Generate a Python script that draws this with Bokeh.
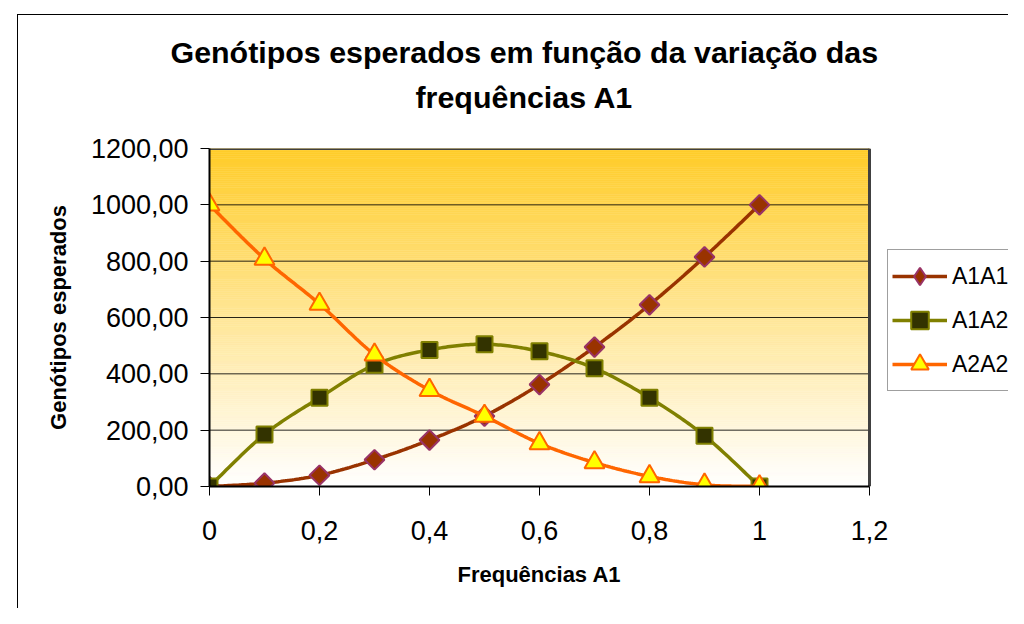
import numpy as np
from bokeh.plotting import figure
from bokeh.models import Title, FixedTicker, Legend, LegendItem, Range1d
from bokeh.embed import file_html
from bokeh.resources import INLINE

# ---------------- data ----------------
freq = [0.0, 0.1, 0.2, 0.3, 0.4, 0.5, 0.6, 0.7, 0.8, 0.9, 1.0]
a1a1 = [0, 12, 40, 95, 165, 250, 362, 495, 645, 815, 1000]
a1a2 = [0, 185, 315, 432, 485, 505, 480, 420, 315, 180, 0]
a2a2 = [1000, 808, 648, 468, 342, 250, 153, 85, 36, 6, 0]
series_names = ["A1A1", "A1A2", "A2A2"]

x_ticks = [0, 0.2, 0.4, 0.6, 0.8, 1.0, 1.2]
x_tick_labels = ["0", "0,2", "0,4", "0,6", "0,8", "1", "1,2"]
y_ticks = [0, 200, 400, 600, 800, 1000, 1200]
y_tick_labels = ["0,00", "200,00", "400,00", "600,00", "800,00", "1000,00", "1200,00"]

title_lines = ["Genótipos esperados em função da variação das", "frequências A1"]
x_title = "Frequências A1"
y_title = "Genótipos esperados"

FONT = "Liberation Sans"


def smooth(xs, ys, n=24):
    """Excel-like smoothed line (Catmull-Rom as cubic Bezier)."""
    xs = np.asarray(xs, float)
    ys = np.asarray(ys, float)
    P = np.stack([xs, ys], axis=1)
    Pp = np.vstack([P[:1], P, P[-1:]])
    out = []
    m = len(P) - 1
    for i in range(m):
        p0, p1, p2, p3 = Pp[i], Pp[i + 1], Pp[i + 2], Pp[i + 3]
        c1 = p1 + (p2 - p0) / 6.0
        c2 = p2 - (p3 - p1) / 6.0
        t = np.linspace(0, 1, n, endpoint=(i == m - 1))[:, None]
        B = (1 - t) ** 3 * p1 + 3 * (1 - t) ** 2 * t * c1 + 3 * (1 - t) * t ** 2 * c2 + t ** 3 * p2
        out.append(B)
    B = np.vstack(out)
    return B[:, 0], B[:, 1]


x_min, x_max = x_ticks[0], x_ticks[-1]
y_min, y_max = y_ticks[0], y_ticks[-1]

# layout (pixels)
W, H = 1008, 608
LEFT, TOP, BOTTOM = 209, 148, 111
PLOT_W = 660                      # width of the plot area (0 .. 1.2)
FRAME_W = W - LEFT                # frame reaches the right edge so the legend fits inside
x_view_max = x_max * FRAME_W / PLOT_W

p = figure(
    width=W, height=H,
    x_range=Range1d(x_min, x_view_max), y_range=Range1d(y_min, y_max),
    output_backend="svg", toolbar_location=None,
    min_border_left=LEFT, min_border_top=TOP, min_border_right=0, min_border_bottom=BOTTOM,
    background_fill_color="white", border_fill_color=None,
)
# chart-area border (left & top edges; right/bottom lie outside the window)
p.styles = {
    "background": "linear-gradient(#000,#000) 17px 14px / 1px 100% no-repeat, "
                  "linear-gradient(#000,#000) 17px 14px / 100% 1px no-repeat, #ffffff",
}
p.outline_line_color = None

# gradient plot-area background (gold top -> white bottom)
n_strips = 175
edges = np.linspace(y_min, y_max, n_strips + 1)
frac = (edges[:-1] + edges[1:]) / 2 / y_max
top_col = np.array([255, 204, 40])
bot_col = np.array([255, 255, 255])
cols = []
for f in frac:
    t = f ** 1.05
    c = bot_col + (top_col - bot_col) * t
    cols.append("#%02x%02x%02x" % tuple(int(round(v)) for v in c))
p.quad(left=x_min, right=x_max, bottom=edges[:-1], top=edges[1:], fill_color=cols,
       line_color=cols, line_width=0.5, level="image")

# horizontal gridlines limited to the plot area, and the plot-area top/right border
grid_y = y_ticks[1:-1]
p.segment(x0=x_min, x1=x_max, y0=grid_y, y1=grid_y, line_color="black", line_width=1,
          line_alpha=0.85, level="underlay")
p.segment(x0=[x_min, x_max], x1=[x_max, x_max], y0=[y_max, y_min], y1=[y_max, y_max],
          line_color="#404040", line_width=3, level="underlay")

# titles: spacer panel nearest the frame, then line 2, then line 1
gap = Title(text=" ", text_font=FONT, text_font_size="1px", standoff=26)
t2 = Title(text=title_lines[1], align="left", vertical_align="bottom", text_font=FONT,
           text_font_size="30.4px", text_font_style="bold", text_color="black",
           offset=206, standoff=12)
t1 = Title(text=title_lines[0], align="left", vertical_align="bottom", text_font=FONT,
           text_font_size="30.4px", text_font_style="bold", text_color="black",
           offset=-39, standoff=5)
p.add_layout(gap, "above")
p.add_layout(t2, "above")
p.add_layout(t1, "above")

# axes
for ax in (p.xaxis[0], p.yaxis[0]):
    ax.axis_line_color = "black"
    ax.axis_line_width = 2
    ax.major_tick_line_color = "black"
    ax.major_tick_line_width = 1
    ax.major_tick_in = 0
    ax.major_tick_out = 9
    ax.minor_tick_line_color = None
    ax.major_label_text_font = FONT
    ax.major_label_text_font_size = "27px"
    ax.major_label_text_color = "black"
    ax.axis_label_text_font = FONT
    ax.axis_label_text_font_size = "22px"
    ax.axis_label_text_font_style = "bold"
    ax.axis_label_text_color = "black"

p.xaxis.bounds = (x_min, x_max)
p.xaxis.ticker = FixedTicker(ticks=x_ticks)
p.xaxis.major_label_overrides = {t: l for t, l in zip(x_ticks, x_tick_labels)}
p.yaxis.ticker = FixedTicker(ticks=y_ticks)
p.yaxis.major_label_overrides = {t: l for t, l in zip(y_ticks, y_tick_labels)}
p.yaxis.axis_label = y_title
p.xaxis.major_label_standoff = 25
p.yaxis.major_label_standoff = 12
p.yaxis.axis_label_standoff = 17

# x-axis title, centred under the plot area (0 .. 1.2) rather than the whole frame
xt = Title(text=x_title, align="left", vertical_align="top", text_font=FONT,
           text_font_size="22px", text_font_style="bold", text_color="black",
           offset=248, standoff=39)
p.add_layout(xt, "below")

p.xgrid.grid_line_color = None
p.ygrid.grid_line_color = None

# series
styles = [
    dict(ys=a1a1, line="#993300", marker="square", angle=np.pi / 4, size=14,
         leg_marker="diamond", fill="#993300", mline="#993366"),
    dict(ys=a1a2, line="#808000", marker="square", angle=0, size=16,
         leg_marker=None, fill="#333300", mline="#808000"),
    dict(ys=a2a2, line="#FF6600", marker="triangle", angle=0, size=20,
         leg_marker=None, fill="#FFFF00", mline="#FF6600"),
]
items = []
for name, st in zip(series_names, styles):
    sx, sy = smooth(freq, st["ys"])
    lr = p.line(sx, sy, line_color=st["line"], line_width=3.5)
    sr = p.scatter(freq, st["ys"], marker=st["marker"], angle=st["angle"], size=st["size"],
                   fill_color=st["fill"], line_color=st["mline"], line_width=2)
    if st["leg_marker"]:
        # hidden twin used only for the legend symbol (diamond)
        lm = p.scatter(freq, st["ys"], marker=st["leg_marker"], size=st["size"],
                       fill_color=st["fill"], line_color=st["mline"], line_width=2,
                       visible=False)
        items.append(LegendItem(label=name, renderers=[lr, lm]))
    else:
        items.append(LegendItem(label=name, renderers=[lr, sr]))

legend = Legend(items=items, location=(678, 95), label_text_font=FONT,
                label_text_font_size="23px", label_text_color="black",
                glyph_width=55, glyph_height=44, label_height=44, spacing=0,
                padding=4, margin=0, label_standoff=5,
                border_line_color="#404040", border_line_width=1,
                background_fill_color="white", background_fill_alpha=1.0,
                inactive_fill_alpha=0.0)
p.add_layout(legend)

open("out.html", "w").write(file_html(p, INLINE))
